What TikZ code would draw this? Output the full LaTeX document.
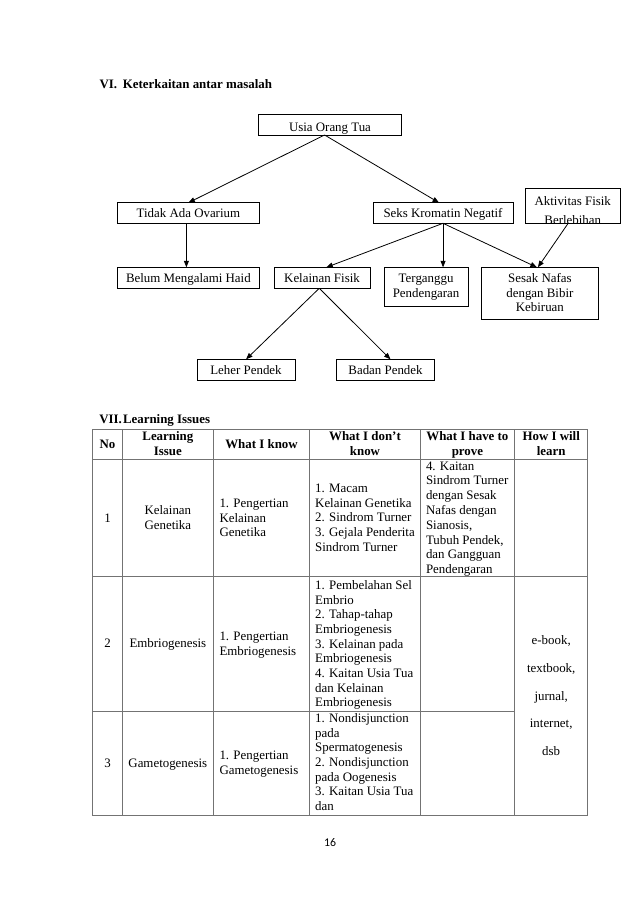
\documentclass[tikz,border=0pt]{standalone}
\usepackage{fontspec}
\setmainfont{Liberation Serif}
\newfontfamily\pgnumfont{Carlito}
\usetikzlibrary{arrows.meta,calc}
\newcommand\txtlines[6]{\foreach \txtline [count=\cnt from 0] in {#6}{\node[#5] (#1-\cnt) at (#2,{#3+\cnt*#4}) {\txtline};}}
\newcommand\mkbox[5]{\node[box,minimum width={(#4)-(#2)},minimum height={(#5)-(#3)}] (#1) at ({((#2)+(#4))/2},{((#3)+(#5))/2}) {};}
\newcommand\boxtext[5]{\begin{scope}\clip (#1.north west) rectangle (#1.south east);\txtlines{#1t}{#2}{#3}{#4}{txt,anchor=base}{#5}\end{scope}}
\begin{document}
\begin{tikzpicture}[x=1pt,y=-1pt,
  box/.style={draw=black,line width=0.8pt,inner sep=0pt,outer sep=0pt},
  txt/.style={inner sep=0pt,outer sep=0pt,font=\fontsize{12.9}{14.8}\selectfont},
  btxt/.style={inner sep=0pt,outer sep=0pt,font=\fontsize{12.9}{14.8}\selectfont\bfseries},
  arr/.style={line width=0.8pt,-{Triangle[length=6.5pt,width=5pt]}},
  tline/.style={draw=black!55,line width=0.8pt}]
\fill[white] (0,0) rectangle (638,903);
\useasboundingbox (0,0) rectangle (638,903);

% ---------- Section VI ----------
\node[btxt,anchor=base west] (t6a) at (99.6,88.3) {VI.};
\node[btxt,anchor=base west] (t6b) at (122.9,88.3) {Keterkaitan antar masalah};

\mkbox{usia}{258.6}{114.3}{401.4}{135}
\mkbox{tidak}{117.5}{202.7}{259.3}{223.3}
\mkbox{seks}{372.9}{202.7}{513.2}{223.3}
\mkbox{akt}{525.5}{188.3}{620}{223.3}
\mkbox{belum}{117.5}{267.3}{259.3}{288.3}
\mkbox{kel}{273.9}{267.3}{370}{288.3}
\mkbox{terg}{384.3}{267.3}{467.9}{306.3}
\mkbox{sesak}{481.8}{267.3}{598}{319.3}
\mkbox{leher}{197.1}{359.3}{295}{380.3}
\mkbox{badan}{336.4}{359.3}{434.6}{380.3}

\boxtext{usia}{330}{131}{14.8}{Usia Orang Tua}
\boxtext{tidak}{188.4}{217.7}{14.8}{Tidak Ada Ovarium}
\boxtext{seks}{443}{217.7}{14.8}{Seks Kromatin Negatif}
\boxtext{akt}{572.75}{205.7}{18.5}{Aktivitas Fisik,Berlebihan}
\boxtext{belum}{188.4}{282.3}{14.8}{Belum Mengalami Haid}
\boxtext{kel}{322}{282.3}{14.8}{Kelainan Fisik}
\boxtext{terg}{426.1}{282.3}{14.8}{Terganggu,Pendengaran}
\boxtext{sesak}{539.9}{282.3}{14.8}{Sesak Nafas,dengan Bibir,Kebiruan}
\boxtext{leher}{246}{374}{14.8}{Leher Pendek}
\boxtext{badan}{385.5}{374}{14.8}{Badan Pendek}

\draw[arr] ($(usia.south)+(-5.4,0)$) -- (tidak.north);
\draw[arr] ($(usia.south)+(-5.4,0)$) -- ($(seks.north)+(-4,0)$);
\draw[arr] ($(tidak.south)+(-2,0)$) -- ($(belum.north)+(-2,0)$);
\draw[arr] (seks.south) -- ($(kel.north)+(4.4,0)$);
\draw[arr] (seks.south) -- (seks.south |- terg.north);
\draw[arr] (seks.south) -- ($(sesak.north)+(-3,0)$);
\draw[arr] ($(akt.south)+(-4.6,0)$) -- ($(sesak.north)+(-2,0)$);
\draw[arr] ($(kel.south)+(-2.7,0)$) -- (leher.north);
\draw[arr] ($(kel.south)+(-2.7,0)$) -- ($(badan.north)+(5,0)$);

% ---------- Section VII ----------
\node[btxt,anchor=base west] (t7a) at (99.3,423.3) {VII.};
\node[btxt,anchor=base west] (t7b) at (123,423.3) {Learning Issues};

\def\cA{92.7}\def\cB{122.4}\def\cC{213.3}\def\cD{309.7}\def\cE{420.2}\def\cF{514.6}\def\cG{587.8}
\def\rA{429}\def\rB{459.3}\def\rC{576.5}\def\rD{711.5}\def\rE{815}

\draw[tline] (\cA,\rA) rectangle (\cG,\rE);
\foreach \xx in {\cB,\cC,\cD,\cE,\cF} \draw[tline] (\xx,\rA) -- (\xx,\rE);
\draw[tline] (\cA,\rB) -- (\cG,\rB);
\draw[tline] (\cA,\rC) -- (\cG,\rC);
\draw[tline] (\cA,\rD) -- (\cF,\rD);

% header
\txtlines{hno}{107.55}{448}{14.8}{btxt,anchor=base}{No}
\txtlines{hli}{167.85}{440.7}{14.8}{btxt,anchor=base}{Learning,Issue}
\txtlines{hwk}{261.5}{448}{14.8}{btxt,anchor=base}{What I know}
\txtlines{hwd}{365}{440.7}{14.8}{btxt,anchor=base}{What I don’t,know}
\txtlines{hwp}{467.4}{440.7}{14.8}{btxt,anchor=base}{What I have to,prove}
\txtlines{hhl}{551.2}{440.7}{14.8}{btxt,anchor=base}{How I will,learn}

% row 1
\txtlines{aA}{107.55}{522.7}{14.8}{txt,anchor=base}{1}
\txtlines{aB}{167.85}{514.3}{14.8}{txt,anchor=base}{Kelainan,Genetika}
\txtlines{aC}{219.5}{507.3}{14.8}{txt,anchor=base west}{1. Pengertian,Kelainan,Genetika}
\txtlines{aD}{315.2}{492.3}{14.8}{txt,anchor=base west}{1. Macam,Kelainan Genetika,2. Sindrom Turner,3. Gejala Penderita,Sindrom Turner}
\begin{scope}
\clip (\cE,\rB) rectangle (\cF,\rC);
\txtlines{aE}{426}{470}{14.8}{txt,anchor=base west}{4. Kaitan,Sindrom Turner,dengan Sesak,Nafas dengan,{Sianosis,},{Tubuh Pendek,},dan Gangguan,Pendengaran}
\end{scope}

% row 2
\txtlines{bA}{107.55}{647.8}{14.8}{txt,anchor=base}{2}
\txtlines{bB}{167.85}{647.8}{14.8}{txt,anchor=base}{Embriogenesis}
\txtlines{bC}{219.5}{640.4}{14.8}{txt,anchor=base west}{1. Pengertian,Embriogenesis}
\txtlines{bD}{315.2}{589.3}{14.7}{txt,anchor=base west}{1. Pembelahan Sel,Embrio,2. Tahap-tahap,Embriogenesis,3. Kelainan pada,Embriogenesis,4. Kaitan Usia Tua,dan Kelainan,Embriogenesis}
\txtlines{bF}{551.2}{644.8}{27.6}{txt,anchor=base}{{e-book,},{textbook,},{jurnal,},{internet,},dsb}

% row 3
\txtlines{cA}{107.55}{767}{14.8}{txt,anchor=base}{3}
\txtlines{cB}{167.85}{767}{14.8}{txt,anchor=base}{Gametogenesis}
\txtlines{cC}{219.5}{759.6}{14.8}{txt,anchor=base west}{1. Pengertian,Gametogenesis}
\txtlines{cD}{315.2}{722.3}{14.7}{txt,anchor=base west}{1. Nondisjunction,pada,Spermatogenesis,2. Nondisjunction,pada Oogenesis,3. Kaitan Usia Tua,dan}

% page number
\node[inner sep=0pt,outer sep=0pt,anchor=base,font=\pgnumfont\fontsize{11.8}{14}\selectfont] (pg) at (330,846.7) {16};
\end{tikzpicture}
\end{document}
